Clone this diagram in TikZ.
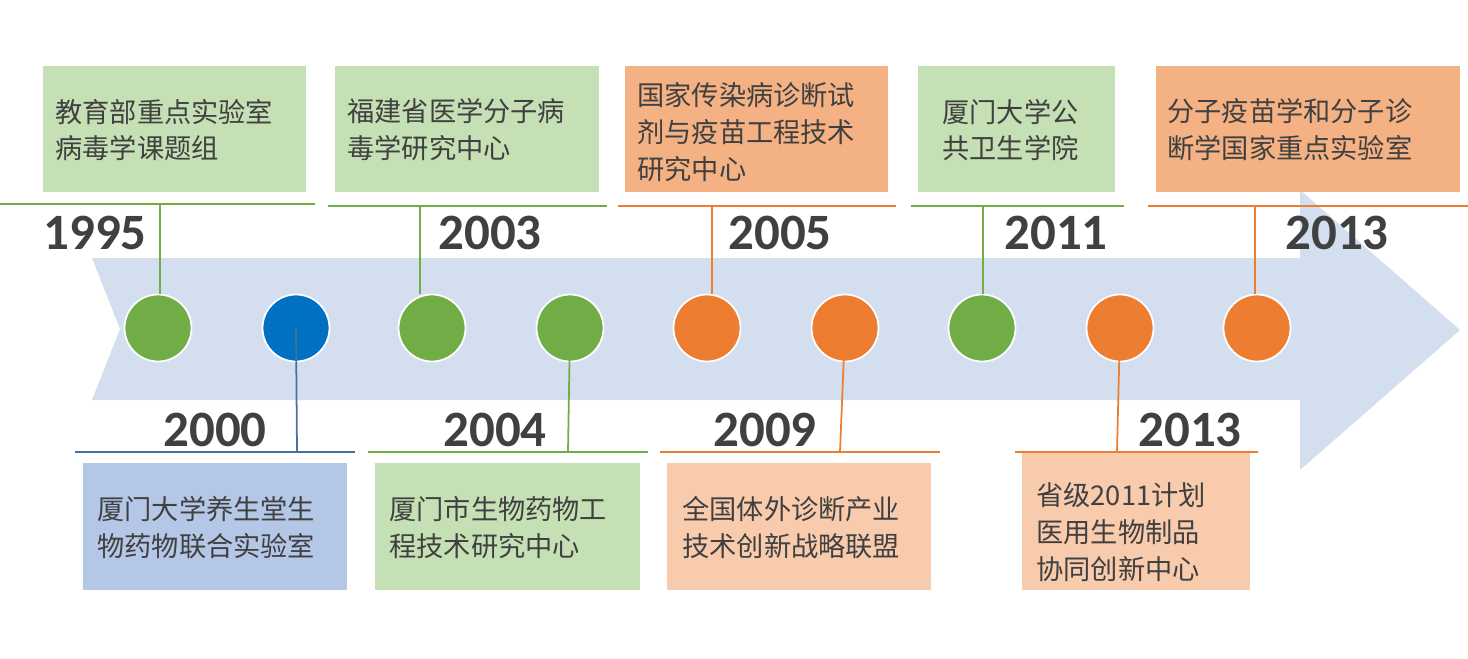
\documentclass[tikz,border=0pt]{standalone}
\usepackage{fontspec}
\newfontfamily\cjk{Noto Sans CJK SC}
\newfontfamily\yr{Carlito}
\definecolor{arr}{HTML}{D3DEEF}
\definecolor{gr}{HTML}{70AD47}
\definecolor{bl}{HTML}{0070C0}
\definecolor{og}{HTML}{ED7D31}
\definecolor{lgr}{HTML}{C5E0B4}
\definecolor{lbl}{HTML}{B4C7E7}
\definecolor{log}{HTML}{F4B183}
\definecolor{llog}{HTML}{F8CBAD}
\definecolor{txt}{HTML}{404040}
\definecolor{lbline}{HTML}{44729F}
\begin{document}
\begin{tikzpicture}[x=0.02cm,y=-0.02cm,
  box/.style={inner sep=0pt,align=left,text=txt,font=\cjk\fontsize{15.5}{21}\selectfont},
  year/.style={text=txt,font=\yr\bfseries\fontsize{29}{30}\selectfont,inner sep=0pt},
  dot/.style={circle,draw=white,line width=1pt,minimum size=1.34cm,inner sep=0pt},
  tl/.style={line width=1pt}]
\useasboundingbox (0,0) rectangle (1468,659);
\fill[arr] (92,258) -- (1300,258) -- (1300,190) -- (1460,330) -- (1300,470) -- (1300,400) -- (92,400) -- (120,329) -- cycle;
% top boxes
\fill[lgr] (43,66) rectangle (306,192);
\node[box,anchor=west] (t1) at (55,130) {教育部重点实验室\\病毒学课题组};
\fill[lgr] (335,66) rectangle (599,192);
\node[box,anchor=west] (t2) at (347,130) {福建省医学分子病\\毒学研究中心};
\fill[log] (625,66) rectangle (888,192);
\node[box,anchor=west] (t3) at (637,132) {国家传染病诊断试\\剂与疫苗工程技术\\研究中心};
\fill[lgr] (918,66) rectangle (1115,192);
\node[box,anchor=west] (t4) at (942,130) {厦门大学公\\共卫生学院};
\fill[log] (1156,66) rectangle (1460,192);
\node[box,anchor=west] (t5) at (1167,130) {分子疫苗学和分子诊\\断学国家重点实验室};
% bottom boxes
\fill[lbl] (83,463) rectangle (347,590);
\node[box,anchor=west] (b1) at (97,528) {厦门大学养生堂生\\物药物联合实验室};
\fill[lgr] (375,463) rectangle (640,590);
\node[box,anchor=west] (b2) at (389,528) {厦门市生物药物工\\程技术研究中心};
\fill[llog] (667,463) rectangle (931,590);
\node[box,anchor=west] (b3) at (682,528) {全国体外诊断产业\\技术创新战略联盟};
\fill[llog] (1022,452) rectangle (1250,590);
\node[box,anchor=west] (b4) at (1036,532) {省级2011计划\\医用生物制品\\协同创新中心};
% dots
\foreach \n/\x/\c in {1/158/gr,2/296/bl,3/432/gr,4/570/gr,5/707/og,6/845/og,7/982/gr,8/1120/og,9/1257/og}
  \node[dot,fill=\c] (d\n) at (\x,328) {};
% top lines
\coordinate (a1) at (0,204); \coordinate (a2) at (315,204);
\draw[tl,gr] (a1) -- (a2);
\draw[tl,gr] (d1.north -| 160,0) -- (160,204);
\node[year] (y1) at (95,233) {1995};
\draw[tl,gr] (328,206) -- (607,206);
\draw[tl,gr] (d3.north -| 420,0) -- (420,206);
\node[year] (y2) at (490,233) {2003};
\draw[tl,og] (618,206) -- (896,206);
\draw[tl,og] (d5.north -| 712,0) -- (712,206);
\node[year] (y3) at (780,233) {2005};
\draw[tl,gr] (911,206) -- (1124,206);
\draw[tl,gr] (d7.north -| 983,0) -- (983,206);
\node[year] (y4) at (1056,233) {2011};
\draw[tl,og] (1148,206) -- (1468,206);
\draw[tl,og] (d9.north -| 1255,0) -- (1255,206);
\node[year] (y5) at (1337,233) {2013};
% bottom lines
\draw[tl,lbline] (75,452) -- (355,452);
\draw[tl,lbline] (d2.center) -- (297,452);
\node[year] (y6) at (215,430) {2000};
\draw[tl,gr] (368,452) -- (648,452);
\draw[tl,gr] (d4.center) -- (568,452);
\node[year] (y7) at (495,430) {2004};
\draw[tl,og] (660,452) -- (940,452);
\draw[tl,og] (d6.center) -- (840,452);
\node[year] (y8) at (765,430) {2009};
\draw[tl,og] (1015,452) -- (1258,452);
\draw[tl,og] (d8.center) -- (1117,452);
\node[year] (y9) at (1190,430) {2013};
\end{tikzpicture}
\end{document}
